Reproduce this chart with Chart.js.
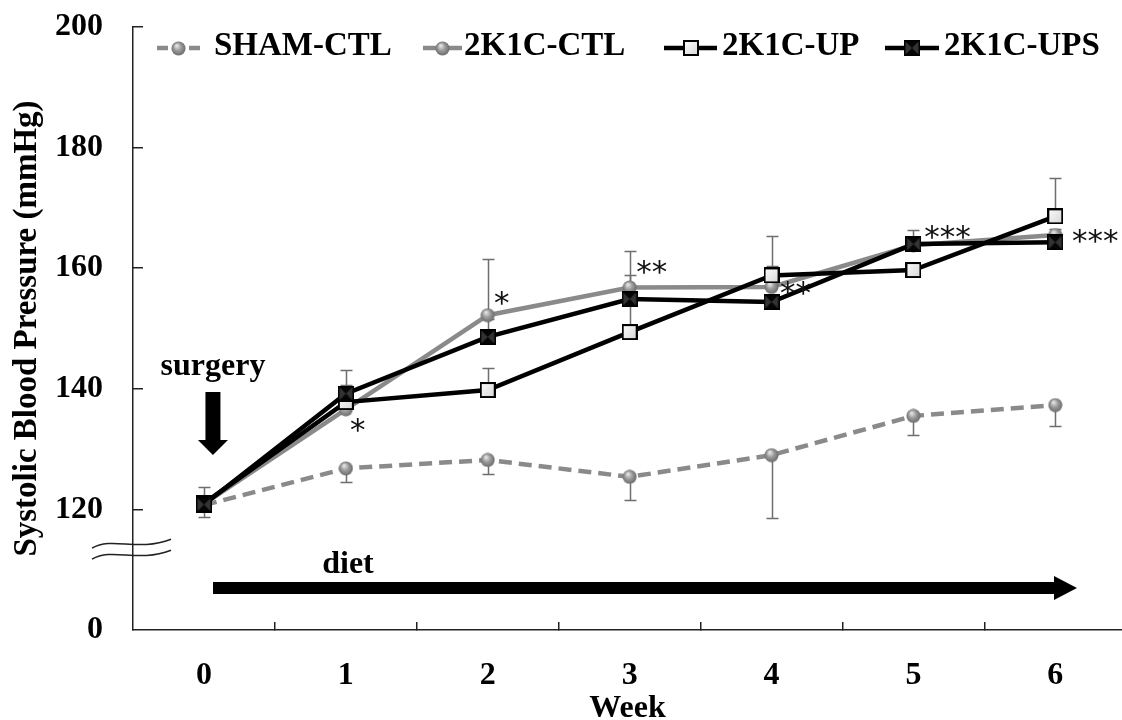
<!DOCTYPE html>
<html>
<head>
<meta charset="utf-8">
<title>Systolic Blood Pressure</title>
<script src="https://cdn.jsdelivr.net/npm/chart.js@4.4.1/dist/chart.umd.min.js"></script>
<style>
  html, body { margin: 0; padding: 0; background: #fff; overflow: hidden; }
  #wrap { width: 1122px; height: 720px; }
</style>
</head>
<body>
<div id="wrap"><canvas id="chart" width="1122" height="720"></canvas></div>
<script>
// ---- data -------------------------------------------------------------
const weeks = [0, 1, 2, 3, 4, 5, 6];
const weekLabels = ['0', '1', '2', '3', '4', '5', '6'];

// broken y axis: the lowest tick stands for 0 mmHg
const yTickValues = [100, 120, 140, 160, 180, 200];
const yTickLabels = ['0', '120', '140', '160', '180', '200'];

const seriesNames = ['SHAM-CTL', '2K1C-CTL', '2K1C-UP', '2K1C-UPS'];

const shamCtl   = [120.7, 126.8, 128.2, 125.4, 129.0, 135.5, 137.3];
const shamCtlSd = [2.0, 2.3, 2.4, 3.9, 10.5, 3.2, 3.5];   // drawn downward

const k1cCtl    = [120.9, 136.6, 152.2, 156.8, 156.9, 163.8, 165.5];
const k1cCtlSd  = [1.2, 1.5, 9.3, 6.0, 3.5, 1.0, 1.0];

const k1cUp     = [121.0, 137.8, 139.8, 149.4, 158.8, 159.7, 168.6];
const k1cUpSd   = [2.7, 2.8, 3.6, 9.4, 6.5, 1.0, 6.4];

const k1cUps    = [120.8, 139.2, 148.6, 154.9, 154.4, 164.0, 164.3];
const k1cUpsSd  = [1.5, 4.0, 3.0, 1.0, 1.0, 2.3, 1.0];

const sigMarks  = ['', '*', '*', '**', '**', '***', '***'];

// ---- styling helpers ---------------------------------------------------
const SERIF = '"Liberation Serif", "Times New Roman", serif';
const STAR_FONT = '"DejaVu Sans", sans-serif';
const GRAY = '#8a8a8a';

function sphere(d) {
  const c = document.createElement('canvas');
  c.width = c.height = d;
  const g = c.getContext('2d');
  const r = d / 2;
  const grad = g.createRadialGradient(r * 0.75, r * 0.6, r * 0.1, r, r, r);
  grad.addColorStop(0, '#e2e2e2');
  grad.addColorStop(0.45, '#9c9c9c');
  grad.addColorStop(1, '#666666');
  g.fillStyle = grad;
  g.beginPath();
  g.arc(r, r, r - 0.5, 0, Math.PI * 2);
  g.fill();
  return c;
}

function whiteSquare(s) {
  const c = document.createElement('canvas');
  c.width = c.height = s;
  const g = c.getContext('2d');
  const grad = g.createLinearGradient(0, 0, s, s);
  grad.addColorStop(0, '#ffffff');
  grad.addColorStop(1, '#d4d4d4');
  g.fillStyle = grad;
  g.fillRect(1, 1, s - 2, s - 2);
  g.strokeStyle = '#000';
  g.lineWidth = 2;
  g.strokeRect(1, 1, s - 2, s - 2);
  return c;
}

function blackSquare(s) {
  const c = document.createElement('canvas');
  c.width = c.height = s;
  const g = c.getContext('2d');
  g.fillStyle = '#333';
  g.fillRect(0, 0, s, s);
  g.fillStyle = '#050505';
  g.beginPath();
  g.moveTo(0, 0); g.lineTo(s, 0); g.lineTo(s / 2, s / 2); g.closePath();
  g.moveTo(0, s); g.lineTo(s, s); g.lineTo(s / 2, s / 2); g.closePath();
  g.fill();
  g.strokeStyle = '#000';
  g.lineWidth = 1.5;
  g.strokeRect(0.75, 0.75, s - 1.5, s - 1.5);
  return c;
}

const imgSphere = sphere(15);
const imgWhite = whiteSquare(16);
const imgBlack = blackSquare(16);

const toPoints = vals => vals.map((v, i) => ({ x: weeks[i], y: v }));

// error bars: one-sided, SHAM downward, the 2K1C groups upward
const errorSeries = [
  { values: shamCtl, sd: shamCtlSd, dir: -1 },
  { values: k1cCtl, sd: k1cCtlSd, dir: 1 },
  { values: k1cUp, sd: k1cUpSd, dir: 1 },
  { values: k1cUps, sd: k1cUpsSd, dir: 1 }
];

// placement of significance stars, relative to the 2K1C-CTL point
const sigOffsets = [null, [12, 16], [14, -17], [22, -20], [24, 1], [34, -13], [40, 1]];

function textAt(ctx, str, cx, cy) {
  // centres the glyph ink box on (cx, cy)
  const m = ctx.measureText(str);
  const asc = m.actualBoundingBoxAscent, desc = m.actualBoundingBoxDescent;
  ctx.textBaseline = 'alphabetic';
  ctx.fillText(str, cx, cy + (asc - desc) / 2);
}

const decor = {
  id: 'decor',
  beforeDatasetsDraw(chart) {
    const { ctx, scales: { x, y } } = chart;
    ctx.save();
    ctx.strokeStyle = '#6e6e6e';
    ctx.lineWidth = 1.5;
    errorSeries.forEach(s => {
      s.values.forEach((v, i) => {
        const px = Math.round(x.getPixelForValue(weeks[i])) + 0.5;
        const y0 = y.getPixelForValue(v);
        const y1 = Math.round(y.getPixelForValue(v + s.dir * s.sd[i])) + 0.5;
        ctx.beginPath();
        ctx.moveTo(px, y0);
        ctx.lineTo(px, y1);
        ctx.moveTo(px - 6, y1);
        ctx.lineTo(px + 6, y1);
        ctx.stroke();
      });
    });
    ctx.restore();
  },
  afterDraw(chart) {
    const { ctx, scales: { x, y } } = chart;
    ctx.save();

    // axis break mark
    ctx.strokeStyle = '#222';
    ctx.lineWidth = 1.5;
    const bx = x.left;
    const by = y.getPixelForValue(113.4);
    [-5, 6].forEach(o => {
      ctx.beginPath();
      ctx.moveTo(bx - 41, by + o + 4);
      ctx.bezierCurveTo(bx - 20, by + o - 8, bx + 4, by + o + 8, bx + 38, by + o - 5);
      ctx.stroke();
    });

    // "surgery" with downward arrow
    ctx.fillStyle = '#000';
    ctx.font = 'bold 32px ' + SERIF;
    ctx.textAlign = 'center';
    const sx = x.getPixelForValue(0) + 9;
    ctx.textBaseline = 'alphabetic';
    ctx.fillText('surgery', sx, 375);
    const aTop = 392, aNeck = 440, aTip = 455;
    ctx.fillRect(sx - 7.5, aTop, 15, aNeck - aTop + 1);
    ctx.beginPath();
    ctx.moveTo(sx - 15, aNeck);
    ctx.lineTo(sx + 15, aNeck);
    ctx.lineTo(sx, aTip);
    ctx.closePath();
    ctx.fill();

    // "diet" with horizontal arrow
    ctx.fillText('diet', 348, 573);
    const dy = 588, dx0 = 213, dNeck = 1054, dTip = 1077;
    ctx.fillRect(dx0, dy - 6, dNeck - dx0 + 1, 12);
    ctx.beginPath();
    ctx.moveTo(dNeck, dy - 12);
    ctx.lineTo(dTip, dy);
    ctx.lineTo(dNeck, dy + 12);
    ctx.closePath();
    ctx.fill();

    // significance stars
    ctx.font = '31px ' + STAR_FONT;
    ctx.fillStyle = '#111';
    sigMarks.forEach((m, i) => {
      if (!m) return;
      const [ox, oy] = sigOffsets[i];
      const px = x.getPixelForValue(weeks[i]) + ox;
      const py = y.getPixelForValue(k1cCtl[i]) + oy;
      ctx.textAlign = 'center';
      textAt(ctx, m, px, py);
    });

    // legend
    const legend = [
      { x0: 157, x1: 200, tx: 214, color: GRAY, dash: [11, 21], img: imgSphere },
      { x0: 423, x1: 462, tx: 464, color: GRAY, dash: [], img: imgSphere },
      { x0: 664, x1: 717, tx: 722, color: '#000', dash: [], img: imgWhite },
      { x0: 885, x1: 939, tx: 944, color: '#000', dash: [], img: imgBlack }
    ];
    const ly = 48;
    legend.forEach((it, i) => {
      ctx.strokeStyle = it.color;
      ctx.lineWidth = 4.5;
      ctx.setLineDash(it.dash);
      ctx.beginPath();
      ctx.moveTo(it.x0, ly);
      ctx.lineTo(it.x1, ly);
      ctx.stroke();
      ctx.setLineDash([]);
      const mx = (it.x0 + it.x1) / 2;
      ctx.drawImage(it.img, Math.round(mx - it.img.width / 2), Math.round(ly - it.img.height / 2));
      ctx.fillStyle = '#000';
      ctx.font = 'bold 33px ' + SERIF;
      ctx.textAlign = 'left';
      ctx.textBaseline = 'alphabetic';
      ctx.fillText(seriesNames[i], it.tx, 55);
    });

    ctx.restore();
  }
};

const tickFont = { family: SERIF, size: 32, weight: 'bold' };

new Chart(document.getElementById('chart'), {
  type: 'line',
  data: {
    datasets: [
      {
        label: seriesNames[0], data: toPoints(shamCtl), order: 3,
        borderColor: GRAY, borderWidth: 4.5, borderDash: [13, 7],
        pointStyle: imgSphere, pointRadius: 8, tension: 0
      },
      {
        label: seriesNames[1], data: toPoints(k1cCtl), order: 2,
        borderColor: GRAY, borderWidth: 4.5,
        pointStyle: imgSphere, pointRadius: 8, tension: 0
      },
      {
        label: seriesNames[2], data: toPoints(k1cUp), order: 1,
        borderColor: '#000', borderWidth: 4.5,
        pointStyle: imgWhite, pointRadius: 8, tension: 0
      },
      {
        label: seriesNames[3], data: toPoints(k1cUps), order: 0,
        borderColor: '#000', borderWidth: 4.5,
        pointStyle: imgBlack, pointRadius: 8, tension: 0
      }
    ]
  },
  options: {
    responsive: false,
    animation: false,
    devicePixelRatio: 1,
    layout: { autoPadding: false, padding: { top: 27, right: 0, bottom: 0, left: 0 } },
    plugins: { legend: { display: false }, tooltip: { enabled: false } },
    scales: {
      x: {
        type: 'linear',
        min: -0.5,
        max: 6.47,
        afterBuildTicks: s => {
          const t = [];
          for (let v = 0; v <= 6; v += 0.5) t.push({ value: v });
          s.ticks = t;
        },
        afterFit: s => { s.height = 90; s.paddingLeft = 0; s.paddingRight = 0; },
        ticks: {
          autoSkip: false, maxRotation: 0, padding: 35, color: '#000', font: tickFont,
          callback: v => Number.isInteger(v) ? weekLabels[weeks.indexOf(v)] : ''
        },
        grid: {
          drawOnChartArea: false, tickLength: -8, lineWidth: 1.5,
          color: c => (c.tick && Number.isInteger(c.tick.value)) ? 'rgba(0,0,0,0)' : '#222'
        },
        border: { color: '#222', width: 1.5 },
        title: {
          display: true, text: 'Week', color: '#000',
          font: { family: SERIF, size: 32, weight: 'bold', lineHeight: 0.7 },
          padding: { top: 0, bottom: 0 }
        }
      },
      y: {
        min: 100,
        max: 200,
        afterBuildTicks: s => { s.ticks = yTickValues.map(v => ({ value: v })); },
        afterFit: s => { s.width = 133; s.paddingTop = 0; s.paddingBottom = 0; },
        ticks: {
          padding: 40, color: '#000', font: tickFont,
          callback: v => yTickLabels[yTickValues.indexOf(v)]
        },
        grid: {
          drawOnChartArea: false, tickLength: -10, lineWidth: 1.5,
          color: c => (c.tick && c.tick.value === 100) ? 'rgba(0,0,0,0)' : '#222'
        },
        border: { color: '#222', width: 1.5 },
        title: {
          display: true, text: 'Systolic Blood Pressure (mmHg)', color: '#000',
          font: { family: SERIF, size: 33, weight: 'bold', lineHeight: 1.2 },
          padding: { top: 8, bottom: 0 }
        }
      }
    }
  },
  plugins: [decor]
});
</script>
</body>
</html>
